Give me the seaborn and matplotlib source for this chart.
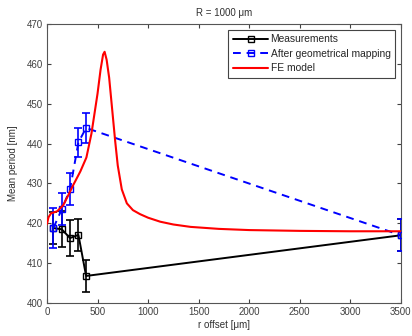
import numpy as np
import pandas as pd
import matplotlib
matplotlib.use("Agg")
import matplotlib.pyplot as plt
import seaborn as sns

# Data
meas_x = [63, 146, 228, 311, 387, 3500]
meas_y = [418.8, 418.5, 416.3, 417.1, 406.8, 417.0]
meas_err = [4.0, 4.5, 4.5, 4.0, 4.0, 4.0]

map_x = [63, 146, 228, 311, 387, 3500]
map_y = [418.8, 423.5, 428.5, 440.3, 443.9, 417.0]
map_err = [5.0, 4.0, 4.0, 3.7, 3.8, 4.0]

fe_x = [0, 15, 40, 100, 160, 210, 260, 330, 390, 440, 470, 500, 530, 555, 570,
        590, 615, 645, 675, 700, 740, 790, 850, 920, 1000, 1120, 1250, 1420,
        1700, 2000, 2500, 3000, 3500]
fe_y = [419.8, 421.5, 422.5, 423.0, 424.5, 427.0, 429.6, 433.0, 436.5, 442.5,
        447.5, 452.5, 458.5, 462.3, 463.0, 461.0, 456.5, 448.5, 440.5, 434.5,
        428.5, 425.0, 423.3, 422.3, 421.4, 420.4, 419.7, 419.1, 418.6, 418.3,
        418.1, 418.0, 418.0]

x_ticks = [0, 500, 1000, 1500, 2000, 2500, 3000, 3500]
y_ticks = [400, 410, 420, 430, 440, 450, 460, 470]
title = "R = 1000 \u03bcm"
xlabel = "r offset [\u03bcm]"
ylabel = "Mean period [nm]"

sns.set_theme(style="ticks")
plt.rcParams['font.family'] = ['Liberation Sans', 'DejaVu Sans']

fig = plt.figure(figsize=(4.12, 3.36), dpi=100)
ax = fig.add_axes([0.114, 0.098, 0.859, 0.831])

df_meas = pd.DataFrame({"x": meas_x, "y": meas_y})
df_map = pd.DataFrame({"x": map_x, "y": map_y})
df_fe = pd.DataFrame({"x": fe_x, "y": fe_y})

ax.errorbar(meas_x, meas_y, yerr=meas_err, fmt='none', ecolor='black',
            elinewidth=1.2, capsize=3, capthick=1.2, zorder=2)
ax.errorbar(map_x, map_y, yerr=map_err, fmt='none', ecolor='blue',
            elinewidth=1.2, capsize=3, capthick=1.2, zorder=3)

sns.lineplot(data=df_meas, x="x", y="y", ax=ax, color='black', lw=1.4,
             marker='s', markersize=5, markerfacecolor='none',
             markeredgecolor='black', markeredgewidth=1.0,
             label="Measurements", zorder=2)
sns.lineplot(data=df_map, x="x", y="y", ax=ax, color='blue', lw=1.4,
             linestyle=(0, (4, 3)), marker='s', markersize=5,
             markerfacecolor='none', markeredgecolor='blue',
             markeredgewidth=1.0, label="After geometrical mapping", zorder=3)
sns.lineplot(data=df_fe, x="x", y="y", ax=ax, color='red', lw=1.5,
             label="FE model", zorder=4, sort=False)

ax.set_xlim(0, 3500)
ax.set_ylim(400, 470)
ax.set_xticks(x_ticks)
ax.set_yticks(y_ticks)
ax.tick_params(direction='in', length=3, width=0.8, labelsize=7,
               colors='#404040', top=True, right=True, pad=3)
for s in ax.spines.values():
    s.set_color('#555555')
    s.set_linewidth(0.8)

ax.set_title(title, fontsize=7, color='#303030', pad=6)
ax.set_xlabel(xlabel, fontsize=7, color='#303030', labelpad=2)
ax.set_ylabel(ylabel, fontsize=7, color='#303030', labelpad=6)

leg = ax.legend(loc='upper right', fontsize=7.4, frameon=True, fancybox=False,
                edgecolor='#444444', framealpha=1, handlelength=3.4,
                borderaxespad=0.55, labelspacing=0.45, borderpad=0.45,
                handletextpad=0.25)
leg.get_frame().set_linewidth(0.8)

fig.savefig("out.png", dpi=100)
